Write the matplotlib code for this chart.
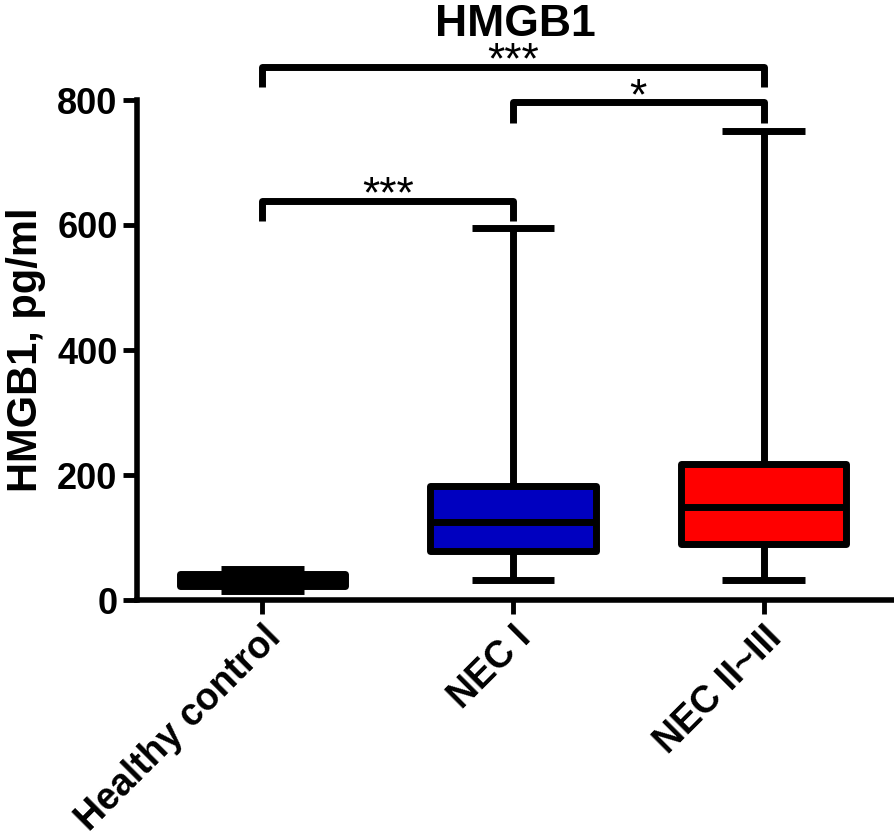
import matplotlib
matplotlib.use("Agg")
import matplotlib.pyplot as plt

plt.rcParams['font.family'] = ['Liberation Sans', 'DejaVu Sans']

categories = ["Healthy control", "NEC I", "NEC II~III"]
whislo = [14, 32, 32]
q1 = [23, 78, 90]
med = [30, 125, 149]
q3 = [41, 182, 217]
whishi = [50, 595, 751]
box_colors = ["black", "#0000C0", "#FF0000"]

comparisons = [(1, 2), (2, 3), (1, 3)]
comp_labels = ["***", "*", "***"]
bracket_y = [639, 796, 853]
bracket_drop = 33

fig = plt.figure(figsize=(8.94, 8.38), dpi=100)
ax = fig.add_axes([137/894, 238/838, 1 - 137/894, 500/838])

stats = []
for i, c in enumerate(categories):
    stats.append(dict(label=c, whislo=whislo[i], q1=q1[i], med=med[i],
                      q3=q3[i], whishi=whishi[i], fliers=[]))

positions = [1, 2, 3]
lw = 5
bp = ax.bxp(stats, positions=positions, widths=0.66, capwidths=0.33,
            patch_artist=True, showfliers=False,
            boxprops=dict(edgecolor='black', linewidth=lw, joinstyle='round'),
            medianprops=dict(color='black', linewidth=lw, solid_capstyle='butt'),
            whiskerprops=dict(color='black', linewidth=lw, solid_capstyle='butt'),
            capprops=dict(color='black', linewidth=lw, solid_capstyle='butt'))
for patch, col in zip(bp['boxes'], box_colors):
    patch.set_facecolor(col)

ax.set_xlim(0.5, 3.52)
ax.set_ylim(0, 800)
ax.set_yticks([0, 200, 400, 600, 800])
ax.set_xticks(positions)
ax.set_xticklabels(categories, rotation=45, ha='right', rotation_mode='anchor',
                   fontsize=27, fontweight='bold')
for lab in ax.get_yticklabels():
    lab.set_fontsize(26)
    lab.set_fontweight('bold')

for s in ['top', 'right']:
    ax.spines[s].set_visible(False)
for s in ['left', 'bottom']:
    ax.spines[s].set_linewidth(4)
ax.tick_params(axis='both', width=3.5, length=10, pad=4)

ax.set_ylabel("HMGB1, pg/ml", fontsize=30, fontweight='bold', labelpad=8)

for (a, b), lab, y in zip(comparisons, comp_labels, bracket_y):
    ax.plot([a, a, b, b], [y - bracket_drop, y, y, y - bracket_drop],
            color='black', lw=lw, solid_joinstyle='round',
            solid_capstyle='butt', clip_on=False)
    ax.text((a + b) / 2, y - 11, lab, ha='center', va='baseline',
            fontsize=32, clip_on=False)

fig.text(ax.get_position().x0 + ax.get_position().width / 2, 1 - 36/838,
         "HMGB1", ha='center', va='baseline', fontsize=32, fontweight='bold')

fig.savefig("out.png", dpi=100)
